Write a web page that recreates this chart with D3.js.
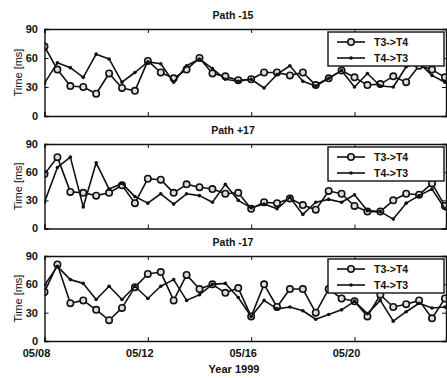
<!DOCTYPE html>
<html><head><meta charset="utf-8">
<script src="https://cdn.jsdelivr.net/npm/d3@7"></script>
<style>body{margin:0;background:#fff}svg{display:block}</style>
</head><body>
<svg id="c" width="447" height="378"></svg>
<script>
// ---- data ----
const times = ["1999-05-08T00:00","1999-05-08T12:00","1999-05-09T00:00","1999-05-09T12:00",
"1999-05-10T00:00","1999-05-10T12:00","1999-05-11T00:00","1999-05-11T12:00",
"1999-05-12T00:00","1999-05-12T12:00","1999-05-13T00:00","1999-05-13T12:00",
"1999-05-14T00:00","1999-05-14T12:00","1999-05-15T00:00","1999-05-15T12:00",
"1999-05-16T00:00","1999-05-16T12:00","1999-05-17T00:00","1999-05-17T12:00",
"1999-05-18T00:00","1999-05-18T12:00","1999-05-19T00:00","1999-05-19T12:00",
"1999-05-20T00:00","1999-05-20T12:00","1999-05-21T00:00","1999-05-21T12:00",
"1999-05-22T00:00","1999-05-22T12:00","1999-05-23T00:00","1999-05-23T12:00"];
const panelTitles = ["Path -15","Path +17","Path -17"];
const seriesNames = ["T3->T4","T4->T3"];
const p15_t3 = [72,48,31,30,23,44,29,26,57,45,39,48,60,44,41,37,38,45,45,42,45,32,39,47,40,32,33,41,35,52,48,40];
const p15_t4 = [34,55,50,40,64,59,35,45,56,54,35,52,59,49,38,36,38,29,43,52,36,31,39,47,30,44,31,30,51,55,42,35];
const p17_t3 = [58,76,39,38,35,38,46,27,53,52,38,47,44,42,37,38,21,28,27,32,25,20,40,37,24,18,18,30,37,36,48,24];
const p17_t4 = [28,65,76,23,70,42,48,34,27,37,26,37,35,28,47,30,22,26,21,33,15,28,31,28,36,19,18,10,27,35,42,21];
const m17_t3 = [52,81,40,43,33,22,35,57,71,73,43,70,55,60,51,56,26,60,36,55,55,30,55,45,42,26,49,36,39,43,24,45];
const m17_t4 = [59,79,65,61,44,58,44,58,45,58,65,43,49,60,61,46,26,43,34,36,32,23,28,33,42,29,43,21,31,40,35,36];
const yTicks = [0,30,60,90];
const xTickDates = ["1999-05-08","1999-05-12","1999-05-16","1999-05-20"];
const xTickLabels = ["05/08","05/12","05/16","05/20"];
const xTitle = "Year 1999";
const yTitle = "Time [ms]";

// ---- drawing ----
const svg = d3.select("#c");
const parse = d3.timeParse("%Y-%m-%dT%H:%M");
const parseD = d3.timeParse("%Y-%m-%d");
const dates = times.map(parse);
const x = d3.scaleTime()
  .domain([parse("1999-05-08T00:00"), parse("1999-05-23T13:00")])
  .range([44.5, 446]);
const panels = [
  {top:29, bottom:116, s:[p15_t3,p15_t4]},
  {top:144, bottom:228.5, s:[p17_t3,p17_t4]},
  {top:256, bottom:341, s:[m17_t3,m17_t4]}
];
const font = "'Liberation Sans', Arial, sans-serif";

panels.forEach((p, pi) => {
  const y = d3.scaleLinear().domain([0,90]).range([p.bottom, p.top]);
  const g = svg.append("g");
  const clipId = "clip"+pi;
  g.append("clipPath").attr("id", clipId).append("rect")
    .attr("x", x.range()[0]).attr("y", p.top)
    .attr("width", x.range()[1]-x.range()[0]).attr("height", p.bottom-p.top);

  // series
  const line = d3.line().x((d,i)=>x(dates[i])).y(d=>y(d));
  const data = g.append("g").attr("clip-path", `url(#${clipId})`);
  p.s.forEach((vals, si) => {
    data.append("path").datum(vals).attr("d", line)
      .attr("fill","none").attr("stroke","#111").attr("stroke-width",1.6)
      .attr("stroke-linejoin","round");
    if (si === 0) {
      data.selectAll(null).data(vals).join("circle")
        .attr("cx",(d,i)=>x(dates[i])).attr("cy",d=>y(d)).attr("r",3.2)
        .attr("fill","#ddd").attr("stroke","#111").attr("stroke-width",1.6);
    } else {
      data.selectAll(null).data(vals).join("circle")
        .attr("cx",(d,i)=>x(dates[i])).attr("cy",d=>y(d)).attr("r",1.8)
        .attr("fill","#111");
    }
  });

  // axes (inward ticks)
  const tickDates = xTickDates.map(parseD);
  const axB = d3.axisBottom(x).tickValues(tickDates).tickSize(-4).tickFormat("");
  const axT = d3.axisTop(x).tickValues(tickDates).tickSize(-4).tickFormat("");
  const axL = d3.axisLeft(y).tickValues(yTicks).tickSize(-4).tickFormat("");
  const axR = d3.axisRight(y).tickValues(yTicks).tickSize(-4).tickFormat("");
  [[axB,`translate(0,${p.bottom})`],[axT,`translate(0,${p.top})`],
   [axL,`translate(${x.range()[0]},0)`],[axR,`translate(${x.range()[1]},0)`]].forEach(([ax,tr])=>{
    const a = g.append("g").attr("transform",tr).call(ax);
    a.select(".domain").attr("stroke","#111").attr("stroke-width",1.4);
    a.selectAll(".tick line").attr("stroke","#111").attr("stroke-width",1);
  });

  // y tick labels
  g.selectAll(null).data(yTicks).join("text")
    .attr("x", 38).attr("y", d=>y(d)).attr("dy","0.35em")
    .attr("text-anchor","end").attr("font-family",font).attr("font-weight","bold")
    .attr("font-size",11).attr("fill","#111").text(d=>d);

  // title
  g.append("text").attr("x",233).attr("y",p.top-14).attr("dy","0.35em")
    .attr("text-anchor","middle").attr("font-family",font).attr("font-weight","bold")
    .attr("font-size",10.5).attr("fill","#111").text(panelTitles[pi]);

  // y title
  g.append("text").attr("transform",`translate(18,${(p.top+p.bottom)/2}) rotate(-90)`)
    .attr("dy","0.35em").attr("text-anchor","middle").attr("font-family",font)
    .attr("font-size",11).attr("fill","#111").text(yTitle);

  // legend
  const lx = 328, ly = p.top+3, lw = 116, lh = 34;
  const lg = g.append("g");
  lg.append("rect").attr("x",lx).attr("y",ly).attr("width",lw).attr("height",lh)
    .attr("fill","#fff").attr("stroke","#111").attr("stroke-width",1.4);
  seriesNames.forEach((nm, si) => {
    const yy = ly + 10 + si*16;
    lg.append("line").attr("x1",lx+9).attr("x2",lx+37).attr("y1",yy).attr("y2",yy)
      .attr("stroke","#111").attr("stroke-width",1.6);
    if (si===0) lg.append("circle").attr("cx",lx+23).attr("cy",yy).attr("r",3.2)
      .attr("fill","#ddd").attr("stroke","#111").attr("stroke-width",1.6);
    else lg.append("circle").attr("cx",lx+23).attr("cy",yy).attr("r",1.8).attr("fill","#111");
    lg.append("text").attr("x",lx+46).attr("y",yy).attr("dy","0.35em")
      .attr("font-family",font).attr("font-weight","bold").attr("font-size",10.5)
      .attr("fill","#111").text(nm);
  });

  // x tick labels on last panel
  if (pi === panels.length-1) {
    g.selectAll(null).data(tickDates).join("text")
      .attr("x", d=>x(d)-8).attr("y", p.bottom+12).attr("dy","0.35em")
      .attr("text-anchor","middle").attr("font-family",font).attr("font-weight","bold")
      .attr("font-size",11).attr("fill","#111").text((d,i)=>xTickLabels[i]);
    g.append("text").attr("x",234).attr("y",p.bottom+28).attr("dy","0.35em")
      .attr("text-anchor","middle").attr("font-family",font).attr("font-weight","bold")
      .attr("font-size",11).attr("fill","#111").text(xTitle);
  }
});
</script>
</body></html>
